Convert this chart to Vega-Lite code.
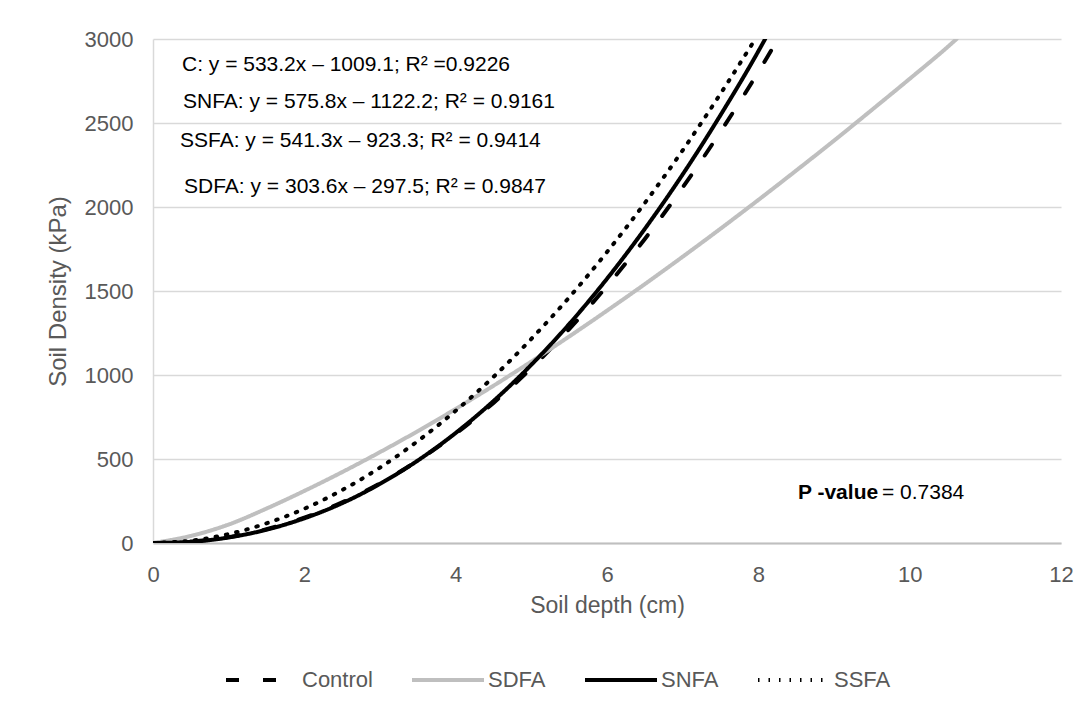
{
  "$schema": "https://vega.github.io/schema/vega-lite/v6.json",
  "width": 908,
  "height": 504,
  "autosize": {"type": "none"},
  "padding": {"left": 153, "top": 39, "right": 29, "bottom": 168},
  "background": "white",
  "config": {
    "view": {"stroke": null},
    "font": "Liberation Sans",
    "legend": {
      "orient": "none",
      "legendX": 71,
      "legendY": 603,
      "direction": "horizontal",
      "symbolType": "stroke",
      "symbolSize": 5184,
      "symbolStrokeWidth": 4,
      "labelFontSize": 22,
      "labelColor": "#595959",
      "labelFont": "Liberation Sans",
      "labelOffset": 2,
      "columnPadding": 31,
      "title": null
    }
  },
  "datasets": {
    "curves": [
      {"series": "Control", "depth": 0, "density": 0},
      {"series": "Control", "depth": 0.5, "density": 8},
      {"series": "Control", "depth": 1, "density": 35},
      {"series": "Control", "depth": 1.5, "density": 82},
      {"series": "Control", "depth": 2, "density": 151},
      {"series": "Control", "depth": 2.5, "density": 242},
      {"series": "Control", "depth": 3, "density": 355},
      {"series": "Control", "depth": 3.5, "density": 491},
      {"series": "Control", "depth": 4, "density": 650},
      {"series": "Control", "depth": 4.5, "density": 834},
      {"series": "Control", "depth": 5, "density": 1041},
      {"series": "Control", "depth": 5.5, "density": 1273},
      {"series": "Control", "depth": 6, "density": 1530},
      {"series": "Control", "depth": 6.5, "density": 1810},
      {"series": "Control", "depth": 7, "density": 2116},
      {"series": "Control", "depth": 7.5, "density": 2448},
      {"series": "Control", "depth": 8, "density": 2804},
      {"series": "Control", "depth": 8.26, "density": 3000},
      {"series": "SDFA", "depth": 0, "density": 0},
      {"series": "SDFA", "depth": 0.5, "density": 42},
      {"series": "SDFA", "depth": 1, "density": 110},
      {"series": "SDFA", "depth": 1.5, "density": 205},
      {"series": "SDFA", "depth": 2, "density": 310},
      {"series": "SDFA", "depth": 2.5, "density": 422},
      {"series": "SDFA", "depth": 3, "density": 541},
      {"series": "SDFA", "depth": 3.5, "density": 666},
      {"series": "SDFA", "depth": 4, "density": 798},
      {"series": "SDFA", "depth": 4.5, "density": 936},
      {"series": "SDFA", "depth": 5, "density": 1080},
      {"series": "SDFA", "depth": 5.5, "density": 1229},
      {"series": "SDFA", "depth": 6, "density": 1383},
      {"series": "SDFA", "depth": 6.5, "density": 1541},
      {"series": "SDFA", "depth": 7, "density": 1704},
      {"series": "SDFA", "depth": 7.5, "density": 1871},
      {"series": "SDFA", "depth": 8, "density": 2042},
      {"series": "SDFA", "depth": 8.5, "density": 2217},
      {"series": "SDFA", "depth": 9, "density": 2395},
      {"series": "SDFA", "depth": 9.5, "density": 2578},
      {"series": "SDFA", "depth": 10, "density": 2763},
      {"series": "SDFA", "depth": 10.5, "density": 2952},
      {"series": "SDFA", "depth": 10.62, "density": 3000},
      {"series": "SNFA", "depth": 0, "density": 0},
      {"series": "SNFA", "depth": 0.5, "density": 7},
      {"series": "SNFA", "depth": 1, "density": 33},
      {"series": "SNFA", "depth": 1.5, "density": 79},
      {"series": "SNFA", "depth": 2, "density": 147},
      {"series": "SNFA", "depth": 2.5, "density": 237},
      {"series": "SNFA", "depth": 3, "density": 352},
      {"series": "SNFA", "depth": 3.5, "density": 491},
      {"series": "SNFA", "depth": 4, "density": 655},
      {"series": "SNFA", "depth": 4.5, "density": 845},
      {"series": "SNFA", "depth": 5, "density": 1061},
      {"series": "SNFA", "depth": 5.5, "density": 1303},
      {"series": "SNFA", "depth": 6, "density": 1573},
      {"series": "SNFA", "depth": 6.5, "density": 1870},
      {"series": "SNFA", "depth": 7, "density": 2194},
      {"series": "SNFA", "depth": 7.5, "density": 2547},
      {"series": "SNFA", "depth": 8, "density": 2927},
      {"series": "SNFA", "depth": 8.09, "density": 3000},
      {"series": "SSFA", "depth": 0, "density": 0},
      {"series": "SSFA", "depth": 0.5, "density": 14},
      {"series": "SSFA", "depth": 1, "density": 53},
      {"series": "SSFA", "depth": 1.5, "density": 117},
      {"series": "SSFA", "depth": 2, "density": 204},
      {"series": "SSFA", "depth": 2.5, "density": 315},
      {"series": "SSFA", "depth": 3, "density": 449},
      {"series": "SSFA", "depth": 3.5, "density": 607},
      {"series": "SSFA", "depth": 4, "density": 787},
      {"series": "SSFA", "depth": 4.5, "density": 989},
      {"series": "SSFA", "depth": 5, "density": 1215},
      {"series": "SSFA", "depth": 5.5, "density": 1462},
      {"series": "SSFA", "depth": 6, "density": 1732},
      {"series": "SSFA", "depth": 6.5, "density": 2024},
      {"series": "SSFA", "depth": 7, "density": 2337},
      {"series": "SSFA", "depth": 7.5, "density": 2674},
      {"series": "SSFA", "depth": 7.96, "density": 3000}
    ]
  },
  "layer": [
    {
      "data": {"name": "curves"},
      "mark": {"type": "line", "interpolate": "monotone", "strokeWidth": 4, "strokeCap": "round", "clip": true},
      "encoding": {
        "x": {
          "field": "depth", "type": "quantitative",
          "scale": {"domain": [0, 12], "nice": false},
          "axis": {
            "title": "Soil depth (cm)",
            "values": [0, 2, 4, 6, 8, 10, 12],
            "format": "d",
            "labelFlush": false,
            "grid": false, "ticks": false,
            "domainColor": "#bfbfbf", "domainWidth": 2,
            "labelFontSize": 22, "labelColor": "#595959", "labelPadding": 21,
            "titleFontSize": 23, "titleColor": "#595959", "titleFontWeight": "normal", "titlePadding": 9
          }
        },
        "y": {
          "field": "density", "type": "quantitative",
          "scale": {"domain": [0, 3000], "nice": false},
          "axis": {
            "title": "Soil Density (kPa)",
            "values": [0, 500, 1000, 1500, 2000, 2500, 3000],
            "format": "d",
            "labelFlush": false,
            "grid": true, "gridColor": "#d9d9d9", "gridWidth": 1.5,
            "ticks": false,
            "domainColor": "#d9d9d9", "domainWidth": 1.5,
            "labelFontSize": 22, "labelColor": "#595959", "labelPadding": 20,
            "titleFontSize": 24, "titleColor": "#595959", "titleFontWeight": "normal", "titlePadding": 14
          }
        },
        "color": {
          "field": "series", "type": "nominal",
          "scale": {"domain": ["Control", "SDFA", "SNFA", "SSFA"], "range": ["#000000", "#bfbfbf", "#000000", "#000000"]}
        },
        "strokeDash": {
          "field": "series", "type": "nominal",
          "scale": {"domain": ["Control", "SDFA", "SNFA", "SSFA"], "range": [[13, 24], [1, 0], [1, 0], [1.5, 9]]}
        }
      }
    },
    {
      "data": {"values": [{}]},
      "mark": {"type": "text", "align": "left", "baseline": "middle", "fontSize": 21, "color": "#000000"},
      "encoding": {"x": {"datum": 0.383}, "y": {"datum": 2845}, "text": {"value": "C: y = 533.2x – 1009.1; R² =0.9226"}}
    },
    {
      "data": {"values": [{}]},
      "mark": {"type": "text", "align": "left", "baseline": "middle", "fontSize": 21, "color": "#000000"},
      "encoding": {"x": {"datum": 0.396}, "y": {"datum": 2625}, "text": {"value": "SNFA: y = 575.8x – 1122.2; R² = 0.9161"}}
    },
    {
      "data": {"values": [{}]},
      "mark": {"type": "text", "align": "left", "baseline": "middle", "fontSize": 21, "color": "#000000"},
      "encoding": {"x": {"datum": 0.357}, "y": {"datum": 2390}, "text": {"value": "SSFA: y = 541.3x – 923.3; R² = 0.9414"}}
    },
    {
      "data": {"values": [{}]},
      "mark": {"type": "text", "align": "left", "baseline": "middle", "fontSize": 21, "color": "#000000"},
      "encoding": {"x": {"datum": 0.41}, "y": {"datum": 2119}, "text": {"value": "SDFA: y = 303.6x – 297.5; R² = 0.9847"}}
    },
    {
      "data": {"values": [{}]},
      "mark": {"type": "text", "align": "left", "baseline": "middle", "fontSize": 21, "fontWeight": "bold", "color": "#000000"},
      "encoding": {"x": {"datum": 8.524}, "y": {"datum": 298}, "text": {"value": "P -value"}}
    },
    {
      "data": {"values": [{}]},
      "mark": {"type": "text", "align": "left", "baseline": "middle", "fontSize": 21, "color": "#000000"},
      "encoding": {"x": {"datum": 9.634}, "y": {"datum": 298}, "text": {"value": "= 0.7384"}}
    }
  ]
}
